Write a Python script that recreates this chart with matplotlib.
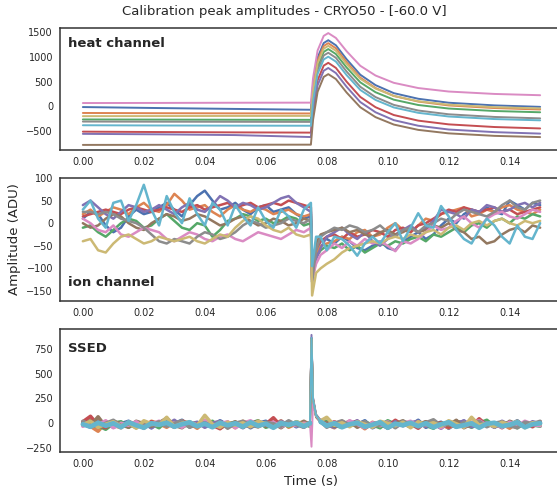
import numpy as np
import matplotlib
matplotlib.use("Agg")
import matplotlib.pyplot as plt
import seaborn as sns

sns.set_style("white")
plt.rcParams['font.family'] = ['DejaVu Sans']

colors = ["#4C72B0", "#DD8452", "#55A868", "#C44E52", "#8172B3",
          "#937860", "#DA8BC3", "#8C8C8C", "#CCB974", "#64B5CD"]

title = "Calibration peak amplitudes - CRYO50 - [-60.0 V]"
channel_names = ["heat channel", "ion channel", "SSED"]

# ---------------- heat channel ----------------
t_heat = [0.0, 0.025, 0.05, 0.0748, 0.0755, 0.0770, 0.0790, 0.0805, 0.083,
          0.0865, 0.091, 0.096, 0.102, 0.110, 0.120, 0.135, 0.150]
heat_blue = [-20, -40, -58, -75, 420, 986, 1283, 1340, 1237, 954, 638, 426, 263, 149, 68, 14, -16]
heat_orange = [-140, -145, -148, -150, 350, 922, 1223, 1280, 1176, 894, 579, 368, 206, 92, 13, -40, -70]
heat_green = [-272, -275, -278, -280, 224, 800, 1102, 1160, 1059, 786, 483, 282, 130, 22, -50, -100, -126]
heat_red = [-520, -528, -535, -540, -43, 525, 823, 880, 777, 498, 186, -23, -182, -296, -372, -426, -455]
heat_purple = [-565, -575, -590, -630, -138, 424, 719, 775, 672, 394, 82, -126, -286, -400, -477, -530, -560]
heat_brown = [-790, -788, -786, -785, -283, 291, 593, 650, 550, 277, -24, -225, -376, -484, -555, -606, -631]
heat_pink = [62, 64, 68, 70, 565, 1131, 1428, 1485, 1386, 1117, 820, 622, 473, 367, 296, 247, 221]
heat_gray = [-315, -318, -320, -322, 170, 733, 1029, 1085, 982, 704, 393, 183, 24, -90, -167, -221, -250]
heat_olive = [-205, -203, -201, -200, 299, 869, 1168, 1225, 1125, 855, 555, 356, 206, 99, 28, -22, -48]
heat_cyan = [-390, -395, -398, -400, 92, 654, 949, 1005, 905, 631, 328, 125, -28, -137, -212, -264, -290]
heat_traces = [heat_blue, heat_orange, heat_green, heat_red, heat_purple,
               heat_brown, heat_pink, heat_gray, heat_olive, heat_cyan]

# ---------------- ion channel ----------------
t_ion = np.concatenate([np.arange(30) * 0.0025, [0.0748, 0.0752, 0.0765, 0.078],
                        0.08 + np.arange(29) * 0.0025])
ion_blue = [10, 25, 20, -5, -20, -10, 15, 30, 20, 25, 35, 45, 30, 15, 40, 60, 72, 50, 30, 35,
            45, 30, 20, 35, 40, 25, 30, 35, 20, 10, 15,
            -110, -60, -40,
            -35, -45, -30, -40, -55, -60, -50, -40, -55, -60, -40, -30, -20, -35, -25, -5,
            10, 0, 20, 30, 25, 35, 25, 20, 50, 40, 30, 45, 40]
ion_orange = [20, 30, 15, 25, 35, 30, 20, 35, 45, 30, 25, 40, 65, 50, 30, 35, 40, 25, 15, 30,
              40, 30, 25, 35, 30, 20, 25, 30, 20, 15, 20,
              -125, -70, -50,
              -45, -40, -30, -35, -20, -15, -30, -25, -10, 0, -15, -20, -5, 10, 5, 20,
              25, 30, 35, 15, 20, 30, 25, 35, 40, 30, 25, 20, 30]
ion_green = [-10, -5, -20, -30, -15, 0, 10, 5, -10, -5, 10, 20, 5, -10, -15, 0, -5, -30, -15, 5,
             10, 20, 15, 5, 10, 0, 5, 15, 10, -5, 0,
             -120, -75, -60,
             -50, -55, -45, -60, -50, -65, -55, -45, -50, -40, -45, -35, -30, -40, -25, -30,
             -20, -10, -20, -5, 0, -10, 5, 10, 0, 15, 10, 20, 15]
ion_red = [15, 20, 25, 30, 25, 20, 30, 35, 30, 25, 30, 35, 30, 25, 35, 40, 30, 35, 40, 45,
           35, 40, 45, 35, 40, 45, 40, 50, 45, 40, 35,
           -100, -55, -40,
           -30, -25, -35, -20, -30, -25, -15, -20, -30, -15, -10, -20, -5, 0, 10, 20,
           30, 25, 35, 30, 25, 30, 35, 25, 30, 20, 25, 30, 35]
ion_purple = [40, 50, 35, 20, 10, 25, 40, 35, 25, 30, 40, 30, 20, 35, 45, 30, 25, 40, 60, 50,
              35, 45, 40, 30, 35, 45, 55, 60, 45, 35, 25,
              -130, -80, -55,
              -30, -20, -10, -25, -35, -20, -40, -50, -35, -25, -15, -5, -20, -10, 5, 30,
              25, 20, 10, 30, 25, 40, 35, 25, 30, 40, 45, 35, 45]
ion_brown = [0, -10, -5, 10, 20, 15, 0, -10, -15, 0, 10, 20, 15, 5, 10, 20, 15, 5, -5, 0,
             10, 15, 5, -5, 0, 10, 5, -5, 0, 10, 5,
             -115, -45, -25,
             -20, -15, -10, -20, -15, -25, -30, -20, -15, -25, -20, -10, -20, -15, -5, -10,
             0, -15, -20, -35, -30, -45, -40, -25, -15, -10, -20, -5, -10]
ion_pink = [10, 0, -15, -20, -5, -25, -30, -20, -10, -15, -20, -35, -40, -30, -20, -25, -35, -40, -30, -25,
            -35, -40, -30, -20, -25, -30, -35, -25, -15, -20, -10,
            -125, -90, -70,
            -60, -45, -55, -40, -50, -35, -45, -40, -50, -62, -40, -45, -35, -20, -5, -15,
            -10, 5, 15, 0, -10, 10, 20, 25, 15, 10, 20, 30, 25]
ion_gray = [25, 25, 20, 25, 20, 10, 5, 0, -10, -25, -40, -45, -35, -40, -45, -30, -20, -25, -35, -30,
            -20, -5, 5, 0, -10, -5, 0, 10, 5, 0, 10,
            -130, -60, -30,
            -20, -10, -15, -5, -10, -20, -15, -5, -20, -30, -15, -10, -20, -5, 0, 10,
            5, 20, 30, 25, 20, 15, 25, 40, 50, 35, 30, 45, 50]
ion_olive = [-40, -35, -60, -65, -45, -30, -25, -35, -45, -40, -30, -35, -40, -35, -30, -40, -45, -35, -25, -30,
             -10, 5, 15, 10, -5, -15, -20, -10, -25, -30, -25,
             -160, -110, -100,
             -90, -80, -65, -55, -50, -45, -40, -45, -35, -30, -35, -25, -30, -20, -15, -25,
             -10, -5, -15, 0, 5, -5, 5, 10, 0, -5, 5, 0, 5]
ion_cyan = [30, 50, 10, -10, 45, 50, 5, 40, 85, 30, -5, 60, 25, 0, 55, 20, -5, 45, 30, -5,
            40, 15, -5, 35, 5, -10, 30, 15, -10, 30, 45,
            -95, -30, -30,
            -60, -30, -35, -50, -72, -45, -30, -45, -20, 0, -40, -10, 22, -5, -10, 38,
            15, -15, -35, -45, -15, 10, -5, -30, -45, -5, -30, -35, 0]
ion_traces = [ion_blue, ion_orange, ion_green, ion_red, ion_purple,
              ion_brown, ion_pink, ion_gray, ion_olive, ion_cyan]

# ---------------- SSED ----------------
t_ssed = np.concatenate([np.arange(30) * 0.0025, [0.0745, 0.0750, 0.0755, 0.0765, 0.078],
                         0.08 + np.arange(29) * 0.0025])
ssed_blue = [-20, 10, -35, 5, -40, -5, 20, -30, 0, -45, 15, -25, -5, 30, -35, -10, 5, -40, 25, -20,
             -5, 10, -45, 0, 20, -30, -10, 15, -35, 5,
             -20, 860, 230, 70, 20,
             -30, 10, -40, 0, -15, 25, -45, -5, 15, -35, 5, -25, 30, -40, -10, 10, -50, 0, 20, -30,
             -5, 15, -40, 5, -20, 25, -35, -5, 10]
ssed_orange = [5, -30, -80, 10, -20, -45, 15, -10, -35, 20, -5, -40, 10, -25, 0, -50, 15, -15, -30, 5,
               -45, 20, -10, -35, 0, -20, 25, -40, -5, -25,
               0, 850, 240, 80, 15,
               -10, -45, 20, -25, 0, -55, 10, -20, -40, 15, -5, -35, 5, -30, 20, -15, -45, 0, -25, 10,
               -40, 15, -20, -5, -50, 10, -30, 0, -20]
ssed_green = [-10, 25, -25, -60, 0, 15, -40, 10, -20, -5, -45, 30, -15, 0, -35, 5, -25, 20, -50, -5,
              10, -30, 0, 25, -40, -15, 5, -30, 15, -10,
              -30, 845, 220, 65, 10,
              20, -20, -40, 5, -30, 10, -15, -45, 25, -10, 0, -35, 15, -20, -50, 5, -25, 20, -5, -40,
              0, 30, -30, -10, 10, -45, 5, -15, -30]
ssed_red = [15, 70, -20, -45, 20, -10, -30, 5, -50, 15, -15, 0, -40, 25, -5, -30, 10, -20, -55, 10,
            -25, 5, -35, 15, -10, 55, -30, 0, -20, 10,
            -10, 855, 250, 75, 25,
            -25, 15, -35, 0, 20, -45, -10, 10, -30, 30, -20, -5, -50, 15, -15, 5, -40, 20, -10, -30,
            45, -20, 0, -45, 10, -25, 5, -35, 15]
ssed_purple = [-5, -40, 20, -15, 0, -35, 10, -25, 15, -45, 5, -20, 30, -30, -10, 10, -40, 0, 20, -25,
               -5, -45, 15, -15, 5, -35, 20, -20, 0, -40,
               5, 890, 260, 90, 30,
               -15, -40, 10, -20, 25, -35, 0, -10, -45, 15, -25, 5, 20, -30, -5, -50, 10, -15, 25, -35,
               -10, 5, -40, 20, -20, 0, -30, 15, -5]
ssed_brown = [0, -25, 65, -35, 10, -15, -40, 20, -5, -30, 5, 50, -20, -45, 10, -10, 25, -35, 0, -20,
              15, -40, -5, 20, -30, 0, -45, 10, -15, 20,
              -15, 850, 225, 60, 10,
              5, -30, -15, 20, -40, 0, -20, 10, -50, -5, 25, -30, -10, 15, -35, 0, -20, 30, -45, -5,
              10, -25, 5, -40, 20, -10, -30, 0, -15]
ssed_pink = [-30, 5, -15, 25, -45, 0, -20, 15, -35, -5, 20, -25, 5, -40, 10, -15, 30, -30, -5, 15,
             -45, 0, 25, -20, -10, 10, -35, 5, -25, 0,
             -10, -236, 210, 70, 15,
             -20, 10, -35, 25, -10, -45, 5, -25, 15, -40, 0, 20, -30, -5, 10, -45, 15, -15, -35, 5,
             25, -20, -5, -40, 10, -30, 20, -10, -25]
ssed_gray = [20, -15, -35, 0, 30, -25, -5, -45, 10, -20, 15, -30, 0, 25, -40, -10, 5, -25, 15, -50,
             0, 20, -20, -35, 10, -5, -30, 25, -15, -40,
             10, 845, 235, 85, 20,
             -40, 0, 25, -20, -5, 15, -35, -15, 10, -45, 20, -10, -30, 5, 35, -25, -5, -40, 10, -15,
             20, -35, 0, 15, -25, -45, 10, -5, 20]
ssed_olive = [-15, 20, -40, -10, 15, -30, 5, -50, 25, -5, -20, 60, -35, 0, 15, -25, 80, -10, -40, 10,
              -20, 5, -35, 20, -5, -45, 10, -25, 15, -15,
              -5, 850, 240, 75, 25,
              60, -20, 5, -35, 15, -10, -40, 20, 0, -25, 10, -45, 15, -15, 5, -30, 25, -5, -40, 60,
              -20, 0, -35, 10, -15, 20, -45, 5, -10]
ssed_cyan = [-10, -35, 5, -25, 0, -40, 10, -20, -45, 0, -15, 5, -35, -10, 10, -30, -5, -40, 5, -20,
             0, -35, 10, -25, -5, -45, 0, -15, 5, -30,
             0, 860, 240, 80, 15,
             -25, 0, -40, -10, 5, -35, -15, 10, -45, -5, -20, 5, -30, 0, -40, -10, 10, -35, -20, 0,
             -45, -5, 5, -30, -15, 10, -40, -10, 0]
ssed_traces = [ssed_blue, ssed_orange, ssed_green, ssed_red, ssed_purple,
               ssed_brown, ssed_pink, ssed_gray, ssed_olive, ssed_cyan]

# ---------------- figure ----------------
W, H = 557, 491
fig = plt.figure(figsize=(W / 100, H / 100), dpi=100)
left = 60 / W
width = 503 / W
axh = 123 / H
ax1 = fig.add_axes([left, 1 - 150.5 / H, width, axh])
ax2 = fig.add_axes([left, 1 - 301 / H, width, axh])
ax3 = fig.add_axes([left, 1 - 452.3 / H, width, axh])

for tr, c in zip(heat_traces, colors):
    ax1.plot(t_heat, tr, color=c, lw=1.4)
for tr, c in zip(ion_traces, colors):
    ax2.plot(t_ion, tr, color=c, lw=1.8)

# noise parts drawn thicker (dense sampling), spike part drawn thin
tt = np.asarray(t_ssed)
for i, (tr, c) in enumerate(zip(ssed_traces, colors)):
    y = np.asarray(tr, dtype=float)
    lw_noise = 3.4 if i == 9 else 2.6
    ax3.plot(tt[:31], y[:31], color=c, lw=lw_noise)
    ax3.plot(tt[34:], y[34:], color=c, lw=lw_noise)
    ax3.plot(tt[30:35], y[30:35], color=c, lw=1.4)

ax1.set_yticks([-500, 0, 500, 1000, 1500])
ax2.set_yticks([-150, -100, -50, 0, 50, 100])
ax3.set_yticks([-250, 0, 250, 500, 750])

xt = [0.00, 0.02, 0.04, 0.06, 0.08, 0.10, 0.12, 0.14]
for ax in (ax1, ax2, ax3):
    ax.set_xticks(xt)
    ax.set_xticklabels([f"{v:.2f}" for v in xt])
    ax.tick_params(labelsize=7, colors="#262626", length=0, pad=5)
    for s in ax.spines.values():
        s.set_color("#333333")
        s.set_linewidth(1.1)

ax1.text(0.016, 0.87, channel_names[0], transform=ax1.transAxes, fontsize=9.5,
         fontweight="bold", color="#262626", va="center")
ax2.text(0.016, 0.15, channel_names[1], transform=ax2.transAxes, fontsize=9.5,
         fontweight="bold", color="#262626", va="center")
ax3.text(0.016, 0.84, channel_names[2], transform=ax3.transAxes, fontsize=9.5,
         fontweight="bold", color="#262626", va="center")

ax2.set_ylabel("Amplitude (ADU)", fontsize=9.5, color="#262626")
ax3.set_xlabel("Time (s)", fontsize=9.5, color="#262626")
fig.text(284 / W, 1 - 11 / H, title, ha="center", va="center", fontsize=9.5, color="#262626")

fig.savefig("out.png", dpi=100)
